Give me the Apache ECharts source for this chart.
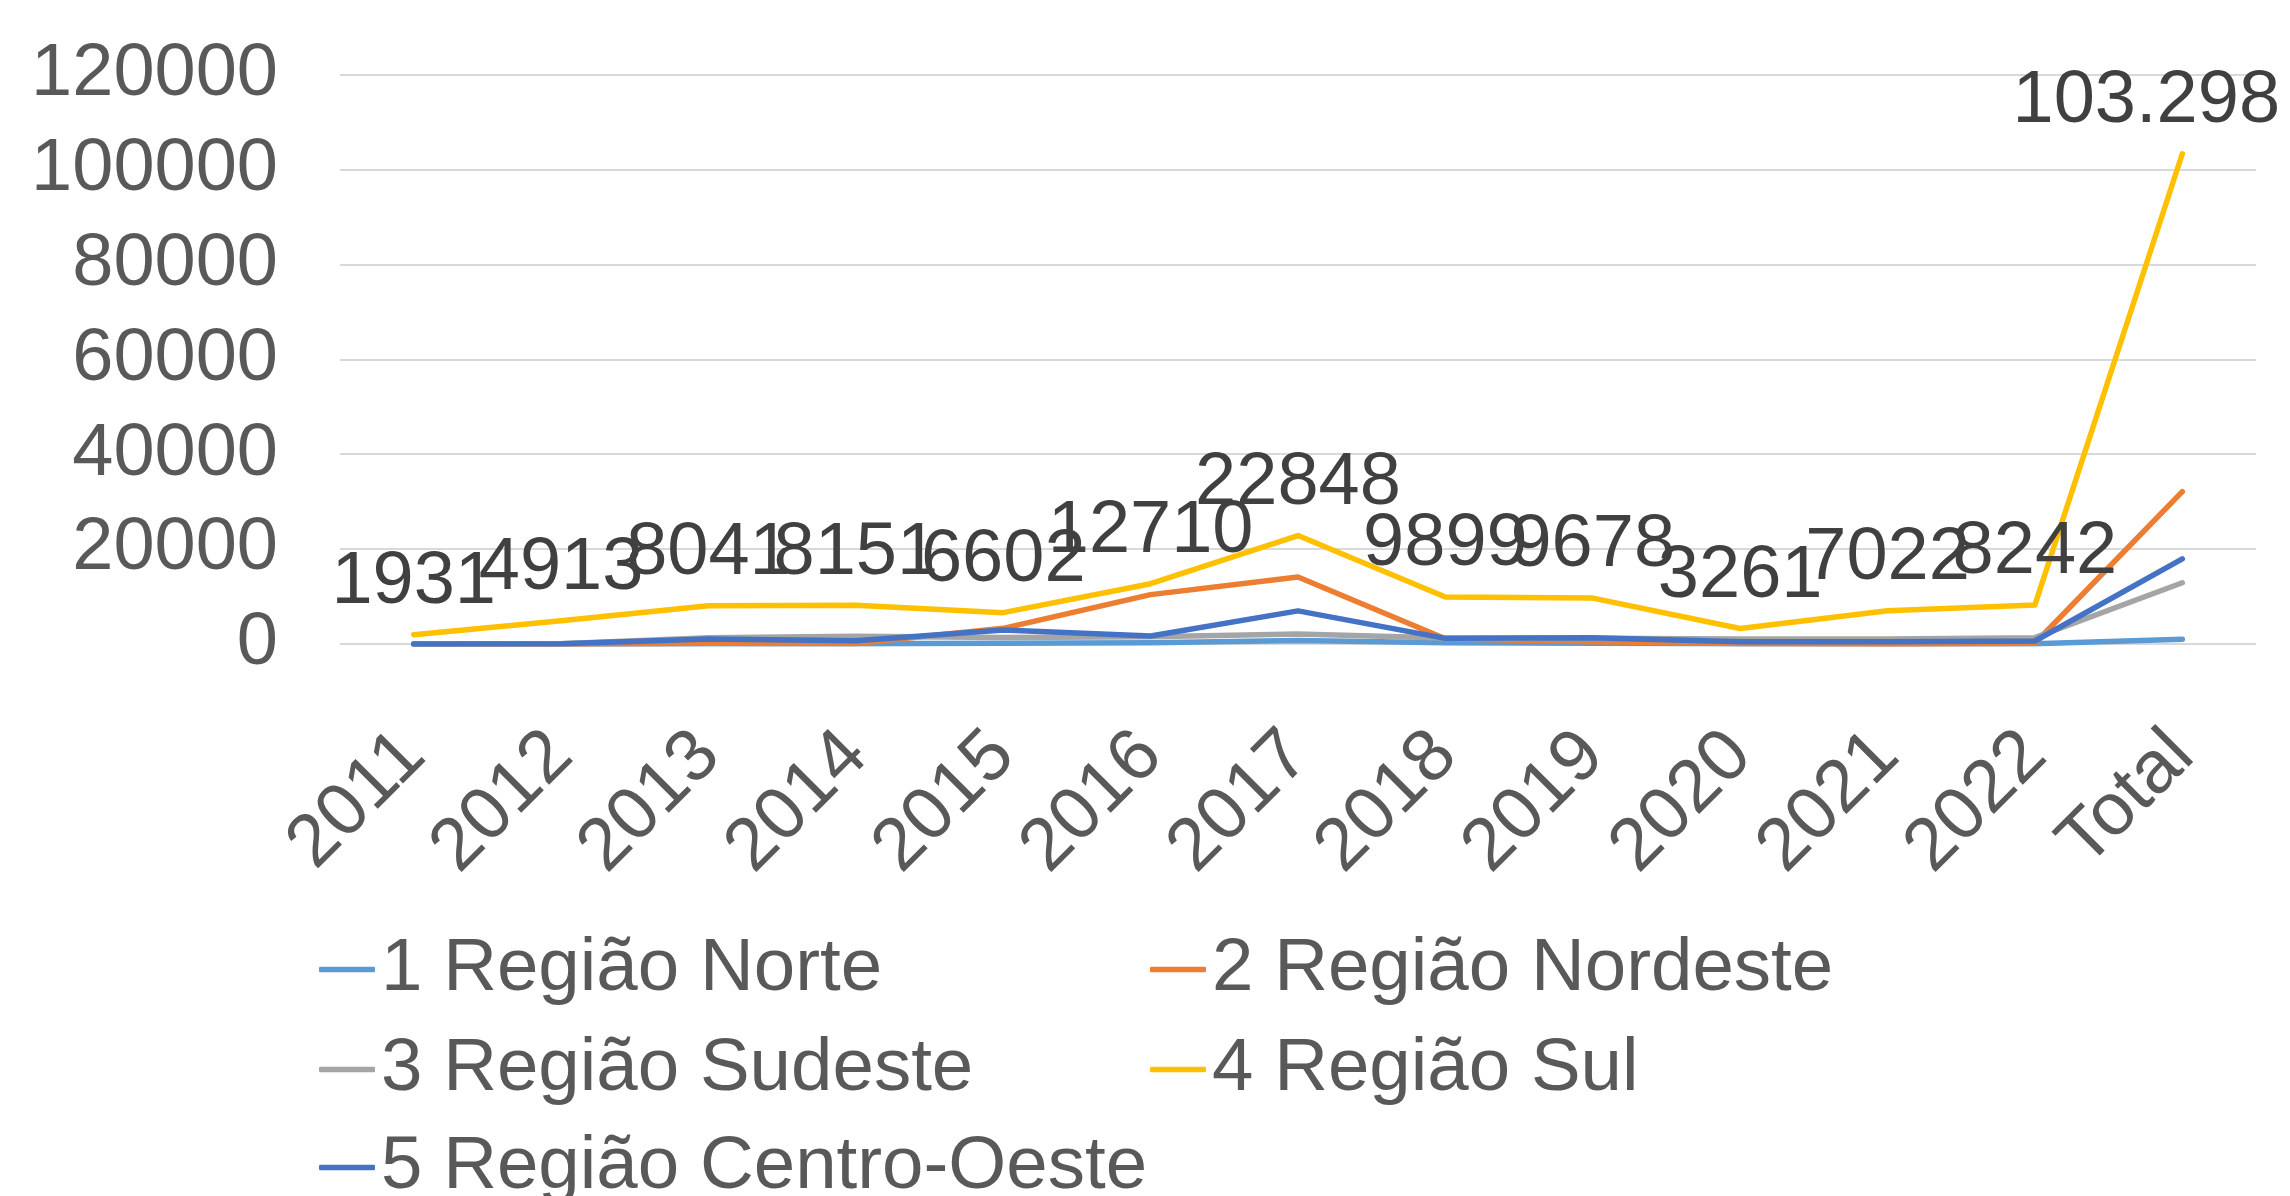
<!DOCTYPE html>
<html>
<head>
<meta charset="utf-8">
<style>
  html, body { margin: 0; padding: 0; background: #ffffff; }
  #chart { width: 2290px; height: 1196px; }
</style>
<script src="https://cdn.jsdelivr.net/npm/echarts@6/dist/echarts.min.js"></script>
</head>
<body>
<div id="chart"></div>
<script>
// ---- data ----
const categories = ['2011','2012','2013','2014','2015','2016','2017','2018','2019','2020','2021','2022','Total'];
const seriesNames = ['1 Região Norte','2 Região Nordeste','3 Região Sudeste','4 Região Sul','5 Região Centro-Oeste'];
const norte    = [0, 0, 30, 50, 150, 280, 750, 280, 150, 50, 50, 30, 1000];
const nordeste = [0, 0, 150, 100, 3300, 10400, 14100, 1100, 500, 100, 0, 150, 32100];
const sudeste  = [0, 50, 1300, 1650, 1350, 1550, 2100, 1250, 1200, 1050, 1050, 1330, 12900];
const sul      = [1931, 4913, 8041, 8151, 6602, 12710, 22848, 9899, 9678, 3261, 7022, 8242, 103298];
const centro   = [0, 50, 1050, 700, 2950, 1680, 6980, 1190, 1330, 490, 490, 630, 17940];
const yTicks   = [0, 20000, 40000, 60000, 80000, 100000, 120000];
const colors   = ['#5B9BD5', '#ED7D31', '#A5A5A5', '#FFC000', '#4472C4'];

const FONT = "'Liberation Sans', Arial, sans-serif";
const allData = [norte, nordeste, sudeste, sul, centro];

function fmtLabel(p) {
  if (p.dataIndex === categories.length - 1) {
    return String(p.value).replace(/\B(?=(\d{3})+(?!\d))/g, '.');
  }
  return String(p.value);
}

const series = allData.map((arr, i) => {
  const isSul = i === 3;
  const s = {
    name: seriesNames[i],
    type: 'line',
    data: isSul
      ? arr.map((v, k) => k === arr.length - 1 ? { value: v, label: { offset: [-36, 0] } } : v)
      : arr,
    color: colors[i],
    lineStyle: { width: 5.5, color: colors[i], cap: 'round', join: 'round' },
    symbol: isSul ? 'circle' : 'none',
    symbolSize: isSul ? 0.01 : 0,
    itemStyle: { color: colors[i], borderWidth: 0 },
    animation: false,
    emphasis: { disabled: true }
  };
  if (isSul) {
    s.label = {
      show: true,
      position: 'top',
      distance: 15,
      fontFamily: FONT,
      fontSize: 74,
      color: '#404040',
      formatter: fmtLabel
    };
  }
  return s;
});

const legendPos = [
  { left: 319, top: 932 },
  { left: 1150, top: 932 },
  { left: 319, top: 1032 },
  { left: 1150, top: 1032 },
  { left: 319, top: 1130 }
];
const legends = seriesNames.map((n, i) => ({
  data: [{ name: n, icon: 'roundRect' }],
  left: legendPos[i].left,
  top: legendPos[i].top,
  padding: 0,
  itemWidth: 56,
  itemHeight: 5.5,
  itemGap: 0,
  selectedMode: false,
  itemStyle: { borderWidth: 0 },
  textStyle: { fontFamily: FONT, fontSize: 74.5, color: '#595959', padding: [0, 0, 0, 1] }
}));

const chart = echarts.init(document.getElementById('chart'), null, { renderer: 'canvas' });
chart.setOption({
  backgroundColor: '#ffffff',
  animation: false,
  grid: { left: 340, right: 34, top: 74.5, bottom: 552, containLabel: false },
  legend: legends,
  xAxis: {
    type: 'category',
    data: categories,
    boundaryGap: true,
    axisLine: { show: false },
    axisTick: { show: false },
    axisLabel: {
      rotate: 45,
      margin: 100,
      interval: 0,
      fontFamily: FONT,
      fontSize: 74,
      color: '#595959'
    }
  },
  yAxis: {
    type: 'value',
    min: yTicks[0],
    max: yTicks[yTicks.length - 1],
    interval: yTicks[1] - yTicks[0],
    axisLine: { show: false },
    axisTick: { show: false },
    splitLine: { show: true, lineStyle: { color: '#D9D9D9', width: 2 } },
    axisLabel: {
      margin: 62,
      padding: [22, 0, 0, 0],
      fontFamily: FONT,
      fontSize: 74,
      color: '#595959',
      formatter: v => String(v)
    }
  },
  series: series
});
</script>
</body>
</html>
